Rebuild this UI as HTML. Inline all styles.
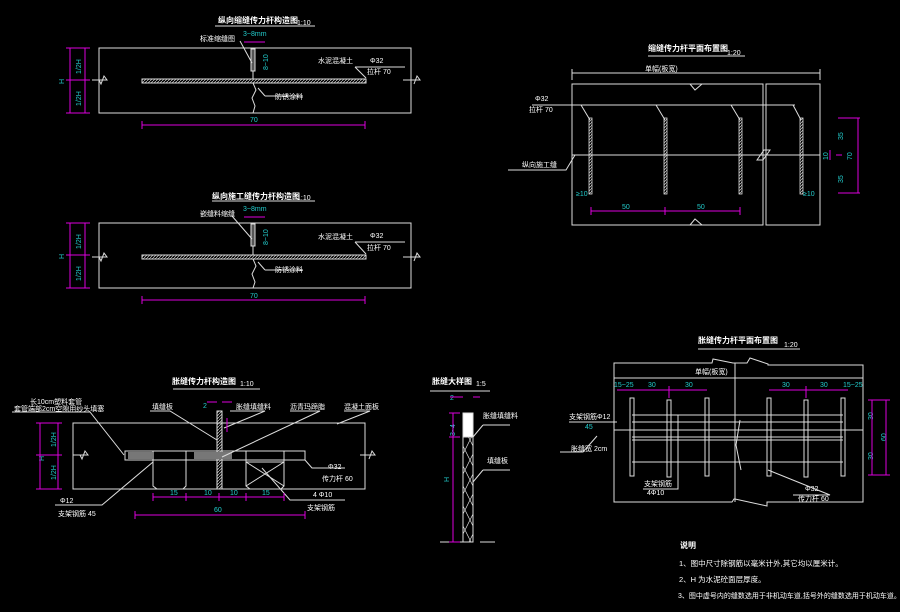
<!DOCTYPE html>
<html><head><meta charset="utf-8"><style>
html,body{margin:0;padding:0;background:#000;}
svg{display:block}
text{font-family:"Liberation Sans","Noto Sans CJK SC",sans-serif;}
.w{fill:#fff;font-size:7px}
.c{fill:#2cc;font-size:7px}
.t{fill:#fff;font-size:8px;font-weight:bold}
</style></head><body>
<svg width="900" height="612" viewBox="0 0 900 612" xmlns="http://www.w3.org/2000/svg">
<defs>
<pattern id="h" width="3" height="3" patternUnits="userSpaceOnUse"><path d="M0 3L3 0" stroke="#ccc" stroke-width="0.7"/></pattern>
<pattern id="x" width="10" height="20" patternUnits="userSpaceOnUse"><path d="M0 0L10 20M10 0L0 20" stroke="#ddd" stroke-width="0.7"/></pattern>
</defs>
<g stroke="#ddd" fill="none" stroke-width="1">
<rect x="99" y="48" width="312" height="65"/>
<rect x="142" y="79" width="224" height="4" fill="url(#h)"/>
<path d="M253 48V79M253 83L256 90L252 98L255 106L253 113" />
<rect x="251" y="49" width="4" height="22" fill="#555"/>
<path d="M215 26H315M240 41L252 63M355 67H405M366 78L355 67M265 96H303M258 88L265 96"/>
<path d="M92 80H107L104 76L101 84L99 80M403 80H420L417 76L414 84"/>
<rect x="99" y="223" width="312" height="65"/>
<rect x="142" y="255" width="224" height="4" fill="url(#h)"/>
<path d="M253 223V255M253 259L256 266L252 274L255 282L253 288" />
<rect x="251" y="224" width="4" height="22" fill="#555"/>
<path d="M212 201H315M232 216L252 239M355 242H405M366 254L355 242M265 270H303M258 262L265 270"/>
<path d="M92 257H107L104 253L101 261L99 257M403 257H420L417 253L414 261"/>
<path d="M648 56H745M572 73H820M572 69V80M820 69V80"/>
<path d="M572 84H763V225H572ZM766 84H820V225H766Z"/>
<path d="M690 84L695 90L702 84M690 225L695 219L702 225"/>
<path d="M532 105H795M572 155H820M757 160L764 150H770L763 160Z M508 170H566L575 155"/>
<path d="M581 105L590 120M656 105L665 120M731 105L740 120M793 105L801 120"/>
</g>
<g fill="url(#h)" stroke="#ddd" stroke-width="0.8">
<rect x="589" y="118" width="3" height="76"/><rect x="664" y="118" width="3" height="76"/>
<rect x="739" y="118" width="3" height="76"/><rect x="800" y="118" width="3" height="76"/>
</g>
<g stroke="#d0d" fill="none" stroke-width="1">
<path d="M70 48V113M85 48V113M66 48H90M66 80H90M66 113H90M142 125H365M142 121V129M365 121V129M244 42H265"/>
<path d="M70 223V288M85 223V288M66 223H90M66 255H90M66 288H90M142 300H365M142 296V304M365 296V304M244 217H265"/>
<path d="M591 211H740M591 207V215M665 207V215M740 207V215M838 118H860M838 193H860M858 118V193M830 150V160M836 155H842"/>
</g>
<g fill="#ddd" stroke="none">
<text class="t" x="218" y="23">纵向缩缝传力杆构造图</text><text class="w" x="297" y="25">1:10</text>
<text class="w" x="200" y="41">标准缩缝图</text><text class="c" x="243" y="36">3~8mm</text>
<text class="w" x="318" y="63">水泥混凝土</text><text class="w" x="370" y="63">Φ32</text><text class="w" x="367" y="74">拉杆 70</text>
<text class="w" x="275" y="99">防锈涂料</text><text class="c" x="250" y="122">70</text>
<text class="t" x="212" y="199">纵向施工缝传力杆构造图</text><text class="w" x="297" y="200">1:10</text>
<text class="w" x="200" y="216">嵌缝料缩缝</text><text class="c" x="243" y="211">3~8mm</text>
<text class="w" x="318" y="239">水泥混凝土</text><text class="w" x="370" y="238">Φ32</text><text class="w" x="367" y="250">拉杆 70</text>
<text class="w" x="275" y="272">防锈涂料</text><text class="c" x="250" y="298">70</text>
<text class="t" x="648" y="51">缩缝传力杆平面布置图</text><text class="w" x="727" y="55">1:20</text>
<text class="w" x="645" y="71">单幅(板宽)</text>
<text class="w" x="535" y="101">Φ32</text><text class="w" x="529" y="112">拉杆 70</text>
<text class="w" x="522" y="167">纵向施工缝</text>
<text class="c" x="576" y="196">≥10</text><text class="c" x="622" y="209">50</text><text class="c" x="697" y="209">50</text>
<text class="c" x="803" y="196">≥10</text>
<text class="t" x="172" y="384">胀缝传力杆构造图</text><text class="w" x="240" y="386">1:10</text>
<text class="w" x="30" y="404">长10cm塑料套管</text><text class="w" x="14" y="411">套管端部2cm空隙用纱头填塞</text>
<text class="w" x="152" y="409">填缝板</text><text class="c" x="203" y="408">2</text><text class="w" x="236" y="409">胀缝填缝料</text>
<text class="w" x="290" y="409">沥青玛蹄脂</text><text class="w" x="344" y="409">混凝土面板</text>
<text class="w" x="328" y="469">Φ32</text><text class="w" x="322" y="481">传力杆 60</text>
<text class="w" x="313" y="497">4 Φ10</text><text class="w" x="307" y="510">支架钢筋</text>
<text class="w" x="60" y="503">Φ12</text><text class="w" x="58" y="516">支架钢筋 45</text>
<text class="c" x="170" y="495">15</text><text class="c" x="204" y="495">10</text><text class="c" x="230" y="495">10</text><text class="c" x="262" y="495">15</text>
<text class="c" x="214" y="512">60</text>
<text class="t" x="432" y="384">胀缝大样图</text><text class="w" x="476" y="386">1:5</text>
<text class="c" x="450" y="400">2</text><text class="w" x="483" y="418">胀缝填缝料</text><text class="w" x="487" y="463">填缝板</text>
<text class="t" x="698" y="343">胀缝传力杆平面布置图</text><text class="w" x="784" y="347">1:20</text>
<text class="w" x="695" y="374">单幅(板宽)</text>
<text class="c" x="614" y="387">15~25</text><text class="c" x="648" y="387">30</text><text class="c" x="685" y="387">30</text>
<text class="c" x="782" y="387">30</text><text class="c" x="820" y="387">30</text><text class="c" x="843" y="387">15~25</text>
<text class="w" x="569" y="419">支架钢筋Φ12</text><text class="c" x="585" y="429">45</text>
<text class="w" x="571" y="451">胀缝宽 2cm</text>
<text class="w" x="644" y="486">支架钢筋</text><text class="w" x="647" y="495">4Φ10</text>
<text class="w" x="805" y="491">Φ32</text><text class="w" x="798" y="501">传力杆 60</text>
<text class="t" x="680" y="548">说明</text>
<text class="w" x="679" y="566" style="font-size:7.5px">1、图中尺寸除钢筋以毫米计外,其它均以厘米计。</text>
<text class="w" x="679" y="582" style="font-size:7.5px">2、H 为水泥砼面层厚度。</text>
<text class="w" x="678" y="598" style="font-size:7px">3、图中虚号内的缝数选用于非机动车道,括号外的缝数选用于机动车道。</text>
</g>
<g fill="#2cc" font-size="7" font-family="Liberation Sans,sans-serif">
<text transform="translate(64,84) rotate(-90)">H</text><text transform="translate(81,74) rotate(-90)">1/2H</text><text transform="translate(81,106) rotate(-90)">1/2H</text>
<text transform="translate(64,259) rotate(-90)">H</text><text transform="translate(81,249) rotate(-90)">1/2H</text><text transform="translate(81,281) rotate(-90)">1/2H</text>
<text transform="translate(268,70) rotate(-90)">8~10</text><text transform="translate(268,245) rotate(-90)">8~10</text>
<text transform="translate(852,160) rotate(-90)">70</text><text transform="translate(843,140) rotate(-90)">35</text><text transform="translate(843,183) rotate(-90)">35</text><text transform="translate(828,160) rotate(-90)">10</text>
<text transform="translate(44,461) rotate(-90)">H</text><text transform="translate(56,447) rotate(-90)">1/2H</text><text transform="translate(56,480) rotate(-90)">1/2H</text>
<text transform="translate(449,482) rotate(-90)">H</text><text transform="translate(455,436) rotate(-90)">3~4</text>
<text transform="translate(886,441) rotate(-90)">60</text><text transform="translate(873,420) rotate(-90)">30</text><text transform="translate(873,460) rotate(-90)">30</text>
</g>
<g stroke="#ddd" fill="none" stroke-width="1">
<path d="M173 389H260M73 423H365V489H73ZM73 455H88L85 451L82 459L80 455M360 455H375L372 451L369 459"/>
<path d="M125 451H305V460H125ZM153 451V486L157 489H183L186 486V451M246 451V486L250 489H281L284 486V451M246 462H284M246 462L284 486M284 462L246 486"/>
<rect x="217" y="411" width="5" height="78" fill="url(#h)"/>
<rect x="128" y="452" width="26" height="7" fill="#777" stroke="none"/><rect x="194" y="452" width="38" height="7" fill="#777" stroke="none"/>
<path d="M12 412H90L124 455M150 411H170L217 440M230 411H265L224 428M290 411H320L222 457M344 411H370L337 424M305 460L312 468H345M262 468L290 500H345M55 505H102L153 462"/>
<path d="M430 391H490M463 413H473V542H463ZM440 542H463M480 542H495"/>
<rect x="463" y="413" width="10" height="24" fill="#fff"/>
<rect x="463" y="437" width="10" height="105" fill="url(#x)"/>
<path d="M483 425H510M473 437L483 425M483 470H510M473 482L483 470"/>
<path d="M698 349H800M614 363H712L713 359L733 363H747L750 358L768 364V365H863V502H767L767 506L735 499H734L732 502H614Z"/>
<path d="M614 378H863M735 363V502"/>
<path d="M632 415H843M632 422H843M614 430H863M632 437H843M632 440H843M632 462H843M740 420L736 445L741 470"/>
<path d="M569 422H617M560 452H583L597 436M643 489H678V415M793 495H830L768 470"/>
</g>
<g fill="none" stroke="#ddd" stroke-width="1">
<rect x="630" y="398" width="4" height="78"/><rect x="667" y="400" width="4" height="77"/><rect x="705" y="398" width="4" height="78"/>
<rect x="767" y="398" width="4" height="78"/><rect x="804" y="400" width="4" height="77"/><rect x="841" y="398" width="4" height="78"/>
</g>
<g stroke="#d0d" fill="none" stroke-width="1">
<path d="M40 423V489M58 423V489M36 423H62M36 455H62M36 489H62M153 497H284M153 493V501M186 493V501M219 493V501M246 493V501M284 493V501M135 515H305M135 511V519M305 511V519M207 402H217M222 402H232M227 418V432"/>
<path d="M453 413V542M449 413H460M449 437H460M449 542H460M450 397H463M473 397H480"/>
<path d="M617 390H707M669 386V398M769 390H848M806 386V398M868 400H890M868 475H890M886 400V475M872 400V475"/>
</g>
</svg>
</body></html>
